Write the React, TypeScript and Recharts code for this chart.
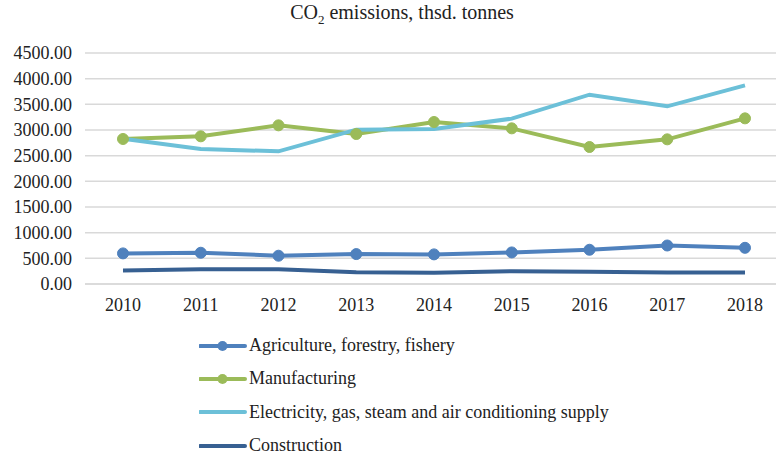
import { LineChart, Line, XAxis, YAxis, CartesianGrid } from "recharts"

const years = ["2010", "2011", "2012", "2013", "2014", "2015", "2016", "2017", "2018"]
const agriculture = [596, 609, 551, 583, 577, 615, 667, 750, 705]
const manufacturing = [2825, 2877, 3091, 2922, 3156, 3032, 2669, 2818, 3227]
const electricity = [2831, 2630, 2584, 3006, 3019, 3221, 3688, 3461, 3870]
const construction = [263, 288, 288, 231, 218, 250, 237, 224, 224]
const yTicks = [0, 500, 1000, 1500, 2000, 2500, 3000, 3500, 4000, 4500]

const series = [
  { key: "agriculture", name: "Agriculture, forestry, fishery", color: "#4f81bd", dot: true },
  { key: "manufacturing", name: "Manufacturing", color: "#9bbb59", dot: true },
  { key: "electricity", name: "Electricity, gas, steam and air conditioning supply", color: "#6cc0d8", dot: false },
  { key: "construction", name: "Construction", color: "#376092", dot: false },
]

const data = years.map((year, i) => ({
  year,
  agriculture: agriculture[i],
  manufacturing: manufacturing[i],
  electricity: electricity[i],
  construction: construction[i],
}))

const font = "'Liberation Serif', 'Times New Roman', serif"

export default function App() {
  return (
    <div style={{ position: "absolute", left: 0, top: 0, width: 776, height: 454, background: "#fff", fontFamily: font }}>
      <div style={{ position: "absolute", left: 0, width: 804, top: 1, textAlign: "center", fontSize: 20, color: "#222" }}>
        CO<sub style={{ fontSize: 13 }}>2</sub> emissions, thsd. tonnes
      </div>
      <LineChart width={776} height={320} data={data} margin={{ top: 53, right: 0, left: 0, bottom: 0 }}>
        <CartesianGrid stroke="#d9d9d9" strokeWidth={1.5} vertical={false} />
        <XAxis
          dataKey="year"
          height={36}
          interval={0}
          padding={{ left: 38, right: 31 }}
          tick={{ fontSize: 18, fill: "#222", fontFamily: font }}
          tickLine={false}
          axisLine={{ stroke: "#d9d9d9", strokeWidth: 1.5 }}
          tickMargin={8}
        />
        <YAxis
          width={85}
          domain={[0, 4500]}
          ticks={yTicks}
          interval={0}
          tickFormatter={(v: number) => v.toFixed(2)}
          tick={{ fontSize: 18, fill: "#222", fontFamily: font }}
          tickLine={false}
          axisLine={false}
          tickMargin={7}
        />
        {series.map((s) => (
          <Line
            key={s.key}
            dataKey={s.key}
            name={s.name}
            stroke={s.color}
            strokeWidth={4}
            dot={s.dot ? { r: 5.5, fill: s.color, stroke: s.color, strokeWidth: 1 } : false}
            isAnimationActive={false}
          />
        ))}
      </LineChart>
      <div style={{ position: "absolute", left: 199, top: 329 }}>
        {series.map((s) => (
          <div key={s.key} style={{ display: "flex", alignItems: "center", height: 33.3, fontSize: 18, color: "#222" }}>
            <svg width={48} height={14} style={{ marginRight: 2 }}>
              <line x1={1} y1={7} x2={46} y2={7} stroke={s.color} strokeWidth={4} strokeLinecap="round" />
              {s.dot && <circle cx={23.5} cy={7} r={5} fill={s.color} />}
            </svg>
            {s.name}
          </div>
        ))}
      </div>
    </div>
  )
}
